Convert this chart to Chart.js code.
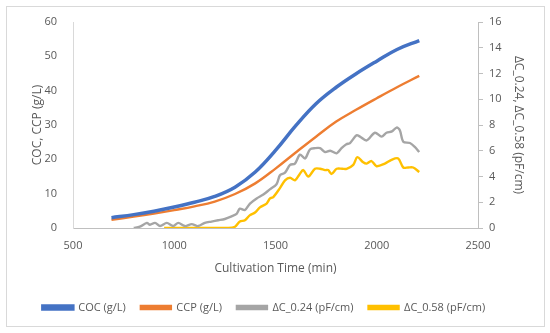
<!DOCTYPE html>
<html>
<head>
<meta charset="utf-8">
<script src="https://cdn.jsdelivr.net/npm/chart.js@4"></script>
<style>
  body { margin: 0; background: #fff; }
  #wrap { position: relative; width: 550px; height: 333px; }
  #frame { position: absolute; left: 6px; top: 6px; width: 537px; height: 319px; border: 1px solid #d9d9d9; pointer-events: none; }
</style>
</head>
<body>
<div id="wrap">
  <canvas id="grafica" width="550" height="333"></canvas>
  <div id="frame"></div>
</div>
<script>
// Datos
const tiempoSuave = [690, 800, 900, 1000, 1100, 1200, 1300, 1400, 1500, 1600, 1700, 1800, 1900, 2000, 2100, 2210];
const coc = [3.0, 3.9, 4.9, 6.1, 7.5, 9.2, 11.9, 16.3, 22.6, 29.8, 36.2, 41, 45, 48.6, 52, 54.6];
const ccp = [2.4, 3.3, 4.2, 5.2, 6.3, 7.7, 9.9, 13.0, 17.3, 22, 26.6, 31, 34.5, 37.8, 41, 44.3];

const tiempoC024 = [800, 830, 865, 880, 905, 930, 963, 995, 1020, 1053, 1086, 1118, 1151, 1184, 1217, 1250, 1283, 1308, 1324, 1349, 1374, 1407, 1440, 1472, 1505, 1522, 1547, 1572, 1596, 1621, 1646, 1670, 1695, 1720, 1745, 1770, 1802, 1826, 1850, 1868, 1900, 1917, 1950, 1991, 2024, 2048, 2075, 2098, 2114, 2131, 2164, 2188, 2210];
const c024 = [0, 0.1, 0.4, 0.25, 0.4, 0.15, 0.4, 0.15, 0.4, 0.15, 0.3, 0.15, 0.4, 0.5, 0.6, 0.7, 0.9, 1.1, 1.5, 1.4, 1.9, 2.3, 2.6, 3.0, 3.4, 4.1, 4.3, 4.9, 5.0, 5.7, 5.4, 6.1, 6.2, 6.2, 5.9, 6.0, 5.8, 6.2, 6.5, 6.6, 7.2, 7.1, 6.8, 7.4, 7.1, 7.4, 7.5, 7.8, 7.6, 6.7, 6.6, 6.3, 5.9];

const tiempoC058 = [950, 1050, 1150, 1267, 1300, 1324, 1349, 1374, 1399, 1423, 1456, 1473, 1489, 1522, 1547, 1572, 1596, 1620, 1637, 1662, 1695, 1720, 1745, 1760, 1777, 1802, 1830, 1851, 1884, 1904, 1933, 1950, 1974, 1999, 2040, 2073, 2106, 2131, 2155, 2180, 2210];
const c058 = [0, 0, 0, 0, 0.1, 0.5, 0.6, 1.0, 1.2, 1.6, 1.9, 2.3, 2.4, 3.1, 3.7, 3.9, 3.7, 4.2, 4.5, 4.0, 4.6, 4.6, 4.5, 4.5, 4.2, 4.6, 4.6, 4.6, 4.9, 5.5, 5.1, 5.0, 5.2, 4.8, 5.0, 5.3, 5.4, 4.7, 4.7, 4.7, 4.35];

const ticksX = [500, 1000, 1500, 2000, 2500];

const pares = (xs, ys) => xs.map((x, i) => ({ x: x, y: ys[i] }));

const gris = '#595959';
const fuente = { family: 'Open Sans', size: 11 };
const fuenteTitulo = { family: 'Open Sans', size: 12 };

// la leyenda va centrada en todo el ancho, no en el area del grafico
const moverLeyenda = {
  id: 'moverLeyenda',
  afterLayout(chart) {
    chart.legend.left -= 14;
    chart.legend.right -= 14;
  }
};

const myChart = new Chart(document.getElementById('grafica'), {
  type: 'line',
  data: {
    datasets: [
      { label: 'COC (g/L)', data: pares(tiempoSuave, coc), borderColor: '#4472C4', backgroundColor: '#4472C4', borderWidth: 3.5, yAxisID: 'y', tension: 0.4 },
      { label: 'CCP (g/L)', data: pares(tiempoSuave, ccp), borderColor: '#ED7D31', backgroundColor: '#ED7D31', borderWidth: 2.4, yAxisID: 'y', tension: 0.4 },
      { label: 'ΔC_0.24 (pF/cm)', data: pares(tiempoC024, c024), borderColor: '#A5A5A5', backgroundColor: '#A5A5A5', borderWidth: 2.4, yAxisID: 'y1', tension: 0.3 },
      { label: 'ΔC_0.58 (pF/cm)', data: pares(tiempoC058, c058), borderColor: '#FFC000', backgroundColor: '#FFC000', borderWidth: 2.4, yAxisID: 'y1', tension: 0.3 }
    ]
  },
  plugins: [moverLeyenda],
  options: {
    responsive: false,
    animation: false,
    events: [],
    elements: { point: { radius: 0 } },
    layout: { padding: { top: 22, bottom: 10, left: 26, right: 20 } },
    plugins: {
      tooltip: { enabled: false },
      legend: {
        position: 'bottom',
        labels: { boxWidth: 30, boxHeight: 3, padding: 15, color: gris, font: fuente }
      }
    },
    scales: {
      x: {
        type: 'linear',
        min: 500, max: 2500,
        afterBuildTicks: (s) => { s.ticks = ticksX.map(v => ({ value: v })); },
        afterFit: (s) => { s.height = 59; },
        grid: { display: false },
        border: { display: true, color: '#bfbfbf' },
        ticks: { color: gris, font: fuente, padding: 3, maxRotation: 0, callback: (v) => String(v) },
        title: { display: true, text: 'Cultivation Time (min)', color: gris, font: fuenteTitulo, padding: { top: 2, bottom: 11 } }
      },
      y: {
        position: 'left',
        min: 0, max: 60,
        afterFit: (s) => { s.width = 47; },
        grid: { display: false },
        border: { display: true, color: '#d9d9d9' },
        ticks: { stepSize: 10, color: gris, font: fuente, padding: 8 },
        title: { display: true, text: 'COC, CCP (g/L)', color: gris, font: fuenteTitulo }
      },
      y1: {
        position: 'right',
        min: 0, max: 16,
        afterFit: (s) => { s.width = 52; },
        grid: { drawOnChartArea: false, drawTicks: true, tickLength: 5, color: '#bfbfbf' },
        border: { display: true, color: '#bfbfbf' },
        ticks: { stepSize: 2, color: gris, font: fuente, padding: 6 },
        title: { display: true, text: 'ΔC_0.24, ΔC_0.58 (pF/cm)', color: gris, font: fuenteTitulo }
      }
    }
  }
});
</script>
</body>
</html>
